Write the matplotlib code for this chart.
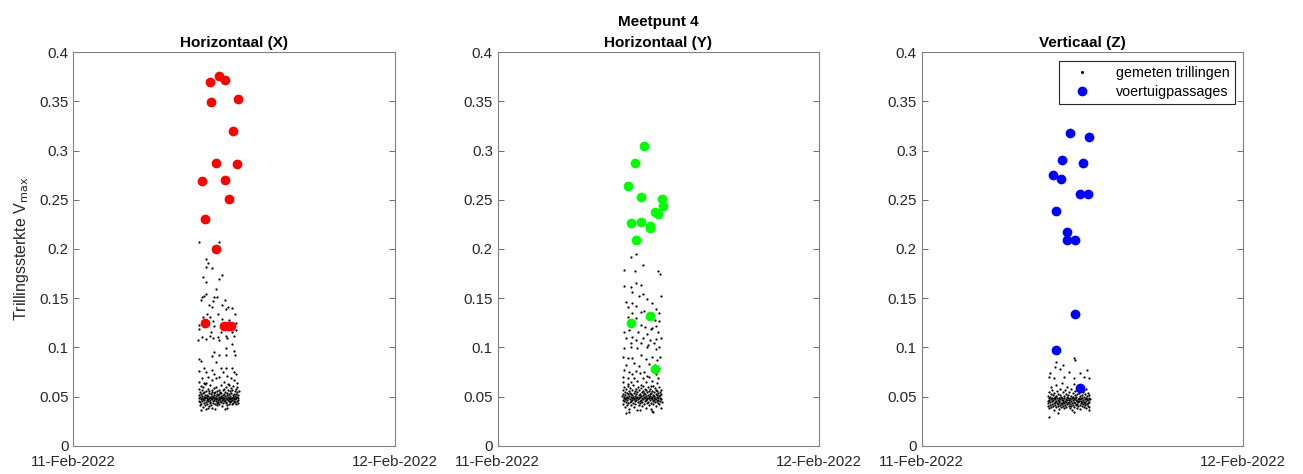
import matplotlib
matplotlib.use("Agg")
import matplotlib.pyplot as plt

plt.rcParams['font.family'] = ['Liberation Sans', 'DejaVu Sans']

# hour of day on 11-Feb-2022, value of Vmax
# --- Horizontaal (X) ---
x_peaks = [(10.22, 0.370), (10.87, 0.376), (11.32, 0.372), (10.27, 0.349), (12.29, 0.353),
           (11.89, 0.320), (10.65, 0.287), (12.24, 0.286), (9.64, 0.269), (11.29, 0.270),
           (11.64, 0.251), (9.85, 0.231), (10.65, 0.200), (9.85, 0.125), (11.24, 0.122),
           (11.54, 0.122), (11.79, 0.122)]

x_black = [
    # sparse upper part
    (9.42, 0.207), (10.87, 0.207), (9.94, 0.190), (10.02, 0.186), (9.92, 0.182), (10.32, 0.181),
    (9.67, 0.172), (11.12, 0.174), (10.87, 0.169), (9.92, 0.166), (10.67, 0.159), (9.90, 0.154),
    (9.77, 0.152), (9.62, 0.151), (9.53, 0.148), (10.52, 0.151), (10.74, 0.151), (10.44, 0.147),
    (11.32, 0.148), (10.12, 0.143), (11.12, 0.143), (11.57, 0.141), (11.37, 0.139), (11.87, 0.140),
    (10.37, 0.141), (9.97, 0.134), (10.82, 0.134), (12.07, 0.134), (9.70, 0.131), (10.22, 0.131),
    (10.42, 0.127), (11.12, 0.129), (11.66, 0.128), (9.42, 0.123), (10.52, 0.122), (12.16, 0.125),
    (9.38, 0.119), (10.27, 0.116), (11.02, 0.116), (11.81, 0.116), (12.11, 0.118),
    (9.62, 0.111), (9.87, 0.1085), (10.24, 0.1115), (10.42, 0.109), (10.82, 0.111), (10.87, 0.1075),
    (11.37, 0.1115), (11.49, 0.109), (11.99, 0.1115), (9.28, 0.1075), (11.85, 0.103), (11.39, 0.099),
    (12.02, 0.096), (10.50, 0.095), (9.38, 0.088), (9.50, 0.086), (10.37, 0.0915), (10.87, 0.092),
    (11.37, 0.092), (12.07, 0.092), (10.67, 0.085),
    # band 0.06 - 0.08
    (9.38, 0.076), (9.75, 0.0787), (9.92, 0.0746), (10.37, 0.077), (10.52, 0.0732), (10.99, 0.0787),
    (11.17, 0.0752), (11.37, 0.0793), (11.87, 0.0787), (11.99, 0.0752), (12.11, 0.0726), (9.62, 0.0691),
    (10.07, 0.0702), (10.32, 0.0668), (10.62, 0.0685), (10.87, 0.0702), (11.49, 0.0712), (11.74, 0.0685),
    (11.96, 0.0668), (9.38, 0.0651), (9.87, 0.0634), (11.24, 0.0651), (11.62, 0.0617),
    # dense core
    (9.36, 0.052), (9.38, 0.045), (9.40, 0.058), (9.41, 0.048), (9.43, 0.041), (9.45, 0.055),
    (9.47, 0.050), (9.49, 0.044), (9.50, 0.061), (9.52, 0.047), (9.54, 0.053), (9.56, 0.042),
    (9.58, 0.049), (9.60, 0.057), (9.61, 0.045), (9.63, 0.051), (9.65, 0.039), (9.67, 0.054),
    (9.69, 0.047), (9.71, 0.060), (9.72, 0.043), (9.74, 0.050), (9.76, 0.046), (9.78, 0.055),
    (9.80, 0.041), (9.82, 0.052), (9.84, 0.048), (9.85, 0.063), (9.87, 0.044), (9.89, 0.050),
    (9.91, 0.037), (9.93, 0.056), (9.95, 0.046), (9.97, 0.052), (9.98, 0.042), (10.00, 0.049),
    (10.02, 0.058), (10.04, 0.045), (10.06, 0.051), (10.08, 0.047), (10.10, 0.054), (10.11, 0.040),
    (10.13, 0.049), (10.15, 0.056), (10.17, 0.044), (10.19, 0.050), (10.21, 0.046), (10.23, 0.062),
    (10.24, 0.043), (10.26, 0.053), (10.28, 0.048), (10.30, 0.041), (10.32, 0.055), (10.34, 0.047),
    (10.36, 0.051), (10.38, 0.038), (10.39, 0.057), (10.41, 0.045), (10.43, 0.050), (10.45, 0.043),
    (10.47, 0.054), (10.49, 0.048), (10.50, 0.059), (10.52, 0.046), (10.54, 0.052), (10.56, 0.042),
    (10.58, 0.049), (10.60, 0.055), (10.62, 0.045), (10.63, 0.051), (10.65, 0.047), (10.67, 0.060),
    (10.69, 0.043), (10.71, 0.053), (10.73, 0.049), (10.75, 0.041), (10.76, 0.056), (10.78, 0.046),
    (10.80, 0.052), (10.82, 0.044), (10.84, 0.050), (10.86, 0.057), (10.88, 0.047), (10.89, 0.053),
    (10.91, 0.042), (10.93, 0.049), (10.95, 0.055), (10.97, 0.045), (10.99, 0.051), (11.01, 0.062),
    (11.02, 0.044), (11.04, 0.048), (11.06, 0.054), (11.08, 0.046), (11.10, 0.050), (11.12, 0.040),
    (11.14, 0.057), (11.15, 0.047), (11.17, 0.052), (11.19, 0.043), (11.21, 0.049), (11.23, 0.058),
    (11.25, 0.045), (11.27, 0.053), (11.28, 0.048), (11.30, 0.037), (11.32, 0.055), (11.34, 0.046),
    (11.36, 0.051), (11.38, 0.043), (11.40, 0.060), (11.41, 0.049), (11.43, 0.044), (11.45, 0.054),
    (11.47, 0.047), (11.49, 0.052), (11.51, 0.041), (11.53, 0.057), (11.54, 0.046), (11.56, 0.050),
    (11.58, 0.063), (11.60, 0.045), (11.62, 0.053), (11.64, 0.048), (11.66, 0.042), (11.67, 0.056),
    (11.69, 0.047), (11.71, 0.051), (11.73, 0.044), (11.75, 0.059), (11.77, 0.049), (11.79, 0.045),
    (11.80, 0.054), (11.82, 0.048), (11.84, 0.042), (11.86, 0.057), (11.88, 0.046), (11.90, 0.052),
    (11.92, 0.050), (11.93, 0.043), (11.95, 0.061), (11.97, 0.047), (11.99, 0.053), (12.01, 0.045),
    (12.03, 0.049), (12.05, 0.056), (12.06, 0.044), (12.08, 0.051), (12.10, 0.047), (12.12, 0.058),
    (12.14, 0.042), (12.16, 0.053), (12.18, 0.048), (12.19, 0.055), (12.21, 0.045), (12.23, 0.050),
    (12.25, 0.060), (12.27, 0.046), (12.29, 0.052), (12.31, 0.043), (12.32, 0.049), (12.34, 0.056),
    (9.55, 0.036), (10.05, 0.038), (10.60, 0.037), (11.45, 0.038), (9.75, 0.064), (12.20, 0.064),
]

# --- Horizontaal (Y) ---
y_peaks = [(10.92, 0.305), (10.27, 0.287), (9.72, 0.264), (10.69, 0.253), (12.29, 0.251),
           (12.34, 0.244), (11.72, 0.238), (11.96, 0.236), (9.94, 0.226), (10.72, 0.227),
           (11.36, 0.223), (11.39, 0.221), (10.35, 0.209), (11.36, 0.132), (9.94, 0.125),
           (11.74, 0.078)]

y_black = [
    # sparse upper part
    (9.94, 0.192), (10.36, 0.195), (10.85, 0.184), (9.44, 0.179), (10.26, 0.178), (12.00, 0.178),
    (12.10, 0.175), (9.41, 0.162), (10.36, 0.165), (10.68, 0.163), (9.94, 0.161), (10.06, 0.156),
    (10.55, 0.152), (10.81, 0.154), (12.17, 0.1525), (9.56, 0.1464), (10.01, 0.1454), (11.18, 0.149),
    (11.55, 0.1448), (9.76, 0.1407), (10.31, 0.142), (10.68, 0.136), (10.93, 0.137), (10.01, 0.135),
    (11.80, 0.1387), (12.04, 0.1346), (11.43, 0.133), (9.76, 0.131), (10.31, 0.1295), (11.75, 0.128),
    (12.04, 0.127), (10.68, 0.1227), (10.98, 0.1204), (11.55, 0.1194), (11.85, 0.1217), (9.44, 0.116),
    (9.81, 0.1176), (10.51, 0.116), (11.18, 0.114), (11.43, 0.1184), (12.00, 0.116), (9.56, 0.109),
    (10.01, 0.1108), (10.36, 0.1075), (10.85, 0.110), (11.35, 0.1075), (11.80, 0.108), (12.17, 0.110),
    (9.94, 0.1047), (10.68, 0.104), (11.22, 0.1024), (11.65, 0.104),
    (9.44, 0.0996), (9.94, 0.1007), (10.43, 0.099), (11.18, 0.1007), (11.80, 0.0983), (12.04, 0.1007),
    (9.32, 0.0905), (9.69, 0.0889), (10.06, 0.0895), (10.68, 0.0922), (11.05, 0.0882), (11.55, 0.0905),
    (11.92, 0.0871), (12.10, 0.0905), (9.56, 0.0821), (10.18, 0.0838), (10.55, 0.0813), (11.30, 0.0828),
    (11.75, 0.0821), (12.04, 0.0787),
    # band 0.06 - 0.08
    (9.44, 0.077), (9.81, 0.0752), (10.06, 0.0726), (10.36, 0.076), (10.61, 0.0736), (10.93, 0.0746),
    (11.18, 0.0712), (9.36, 0.0702), (9.69, 0.0685), (10.18, 0.0691), (10.81, 0.0685), (11.30, 0.0702),
    (11.80, 0.0726), (12.00, 0.0685), (9.32, 0.0651), (9.94, 0.0645), (10.43, 0.0658), (11.05, 0.0645),
    (11.55, 0.0658), (11.92, 0.0634), (9.76, 0.0624), (10.68, 0.0617), (11.43, 0.061),
    # dense core
    (9.30, 0.051), (9.32, 0.046), (9.34, 0.057), (9.36, 0.042), (9.38, 0.053), (9.40, 0.048),
    (9.42, 0.060), (9.44, 0.045), (9.46, 0.050), (9.48, 0.039), (9.50, 0.055), (9.52, 0.047),
    (9.54, 0.052), (9.56, 0.044), (9.58, 0.058), (9.60, 0.049), (9.62, 0.054), (9.64, 0.041),
    (9.66, 0.050), (9.68, 0.046), (9.70, 0.061), (9.72, 0.053), (9.74, 0.043), (9.76, 0.048),
    (9.78, 0.056), (9.80, 0.051), (9.82, 0.037), (9.84, 0.047), (9.86, 0.054), (9.88, 0.044),
    (9.90, 0.059), (9.92, 0.050), (9.94, 0.045), (9.96, 0.053), (9.98, 0.041), (10.00, 0.048),
    (10.02, 0.057), (10.04, 0.046), (10.06, 0.052), (10.08, 0.043), (10.10, 0.050), (10.12, 0.062),
    (10.14, 0.047), (10.16, 0.054), (10.18, 0.039), (10.20, 0.049), (10.22, 0.045), (10.24, 0.056),
    (10.26, 0.051), (10.28, 0.042), (10.30, 0.048), (10.32, 0.058), (10.34, 0.053), (10.36, 0.046),
    (10.38, 0.036), (10.40, 0.050), (10.42, 0.055), (10.44, 0.044), (10.46, 0.049), (10.48, 0.060),
    (10.50, 0.047), (10.52, 0.052), (10.54, 0.041), (10.56, 0.057), (10.58, 0.048), (10.60, 0.045),
    (10.62, 0.053), (10.64, 0.050), (10.66, 0.043), (10.68, 0.059), (10.70, 0.046), (10.72, 0.051),
    (10.74, 0.055), (10.76, 0.040), (10.78, 0.049), (10.80, 0.044), (10.82, 0.056), (10.84, 0.052),
    (10.86, 0.047), (10.88, 0.061), (10.90, 0.042), (10.92, 0.050), (10.94, 0.054), (10.96, 0.045),
    (10.98, 0.058), (11.00, 0.048), (11.02, 0.053), (11.04, 0.038), (11.06, 0.051), (11.08, 0.046),
    (11.10, 0.057), (11.12, 0.043), (11.14, 0.049), (11.16, 0.055), (11.18, 0.047), (11.20, 0.052),
    (11.22, 0.060), (11.24, 0.044), (11.26, 0.050), (11.28, 0.056), (11.30, 0.041), (11.32, 0.048),
    (11.34, 0.053), (11.36, 0.046), (11.38, 0.058), (11.40, 0.051), (11.42, 0.043), (11.44, 0.049),
    (11.46, 0.054), (11.48, 0.037), (11.50, 0.047), (11.52, 0.056), (11.54, 0.050), (11.56, 0.045),
    (11.58, 0.061), (11.60, 0.052), (11.62, 0.042), (11.64, 0.048), (11.66, 0.055), (11.68, 0.046),
    (11.70, 0.051), (11.72, 0.059), (11.74, 0.044), (11.76, 0.049), (11.78, 0.053), (11.80, 0.040),
    (11.82, 0.057), (11.84, 0.047), (11.86, 0.052), (11.88, 0.045), (11.90, 0.050), (11.92, 0.056),
    (11.94, 0.043), (11.96, 0.048), (11.98, 0.054), (12.00, 0.046), (12.02, 0.060), (12.04, 0.051),
    (12.06, 0.042), (12.08, 0.049), (12.10, 0.055), (12.12, 0.045), (12.14, 0.052), (12.16, 0.038),
    (12.18, 0.057), (12.20, 0.047), (12.22, 0.053), (12.24, 0.044),
    (9.56, 0.033), (10.61, 0.036), (11.55, 0.035), (11.60, 0.0346), (9.80, 0.034),
]

# --- Verticaal (Z) ---
z_peaks = [(11.04, 0.318), (12.46, 0.314), (10.45, 0.291), (12.07, 0.287), (9.79, 0.275),
           (10.39, 0.271), (11.81, 0.256), (12.41, 0.256), (10.02, 0.239), (10.82, 0.217),
           (10.82, 0.209), (11.47, 0.209), (11.47, 0.134), (10.02, 0.097), (11.84, 0.059)]

z_black = [
    # sparse upper part
    (11.34, 0.0889), (11.46, 0.0871), (10.04, 0.0854), (10.54, 0.082), (9.97, 0.0803), (10.34, 0.078),
    (9.59, 0.0736), (10.96, 0.0752), (11.84, 0.0736), (12.34, 0.077), (9.47, 0.0702), (9.84, 0.0685),
    (10.59, 0.0702), (11.34, 0.0691), (12.08, 0.0702), (12.46, 0.0685),
    # dense core
    (9.40, 0.045), (9.42, 0.040), (9.44, 0.051), (9.46, 0.043), (9.48, 0.048), (9.50, 0.038),
    (9.52, 0.055), (9.54, 0.046), (9.56, 0.041), (9.58, 0.050), (9.60, 0.044), (9.62, 0.060),
    (9.64, 0.039), (9.66, 0.047), (9.68, 0.053), (9.70, 0.042), (9.72, 0.049), (9.74, 0.045),
    (9.76, 0.057), (9.78, 0.040), (9.80, 0.046), (9.82, 0.052), (9.84, 0.043), (9.86, 0.048),
    (9.88, 0.036), (9.90, 0.054), (9.92, 0.044), (9.94, 0.050), (9.96, 0.041), (9.98, 0.047),
    (10.00, 0.062), (10.02, 0.045), (10.04, 0.039), (10.06, 0.051), (10.08, 0.043), (10.10, 0.048),
    (10.12, 0.056), (10.14, 0.042), (10.16, 0.046), (10.18, 0.040), (10.20, 0.053), (10.22, 0.044),
    (10.24, 0.049), (10.26, 0.037), (10.28, 0.045), (10.30, 0.058), (10.32, 0.041), (10.34, 0.047),
    (10.36, 0.052), (10.38, 0.043), (10.40, 0.039), (10.42, 0.050), (10.44, 0.046), (10.46, 0.064),
    (10.48, 0.042), (10.50, 0.048), (10.52, 0.044), (10.54, 0.055), (10.56, 0.040), (10.58, 0.046),
    (10.60, 0.051), (10.62, 0.043), (10.64, 0.038), (10.66, 0.049), (10.68, 0.045), (10.70, 0.057),
    (10.72, 0.041), (10.74, 0.047), (10.76, 0.053), (10.78, 0.044), (10.80, 0.039), (10.82, 0.050),
    (10.84, 0.046), (10.86, 0.042), (10.88, 0.060), (10.90, 0.048), (10.92, 0.043), (10.94, 0.052),
    (10.96, 0.040), (10.98, 0.046), (11.00, 0.055), (11.02, 0.044), (11.04, 0.038), (11.06, 0.049),
    (11.08, 0.042), (11.10, 0.047), (11.12, 0.058), (11.14, 0.045), (11.16, 0.040), (11.18, 0.051),
    (11.20, 0.043), (11.22, 0.048), (11.24, 0.036), (11.26, 0.054), (11.28, 0.046), (11.30, 0.041),
    (11.32, 0.050), (11.34, 0.044), (11.36, 0.063), (11.38, 0.047), (11.40, 0.039), (11.42, 0.052),
    (11.44, 0.043), (11.46, 0.048), (11.48, 0.056), (11.50, 0.041), (11.52, 0.046), (11.54, 0.050),
    (11.56, 0.038), (11.58, 0.045), (11.60, 0.053), (11.62, 0.042), (11.64, 0.047), (11.66, 0.059),
    (11.68, 0.044), (11.70, 0.040), (11.72, 0.049), (11.74, 0.045), (11.76, 0.054), (11.78, 0.041),
    (11.80, 0.047), (11.82, 0.037), (11.84, 0.051), (11.86, 0.043), (11.88, 0.048), (11.90, 0.061),
    (11.92, 0.045), (11.94, 0.040), (11.96, 0.052), (11.98, 0.044), (12.00, 0.049), (12.02, 0.055),
    (12.04, 0.042), (12.06, 0.046), (12.08, 0.039), (12.10, 0.050), (12.12, 0.044), (12.14, 0.057),
    (12.16, 0.041), (12.18, 0.047), (12.20, 0.053), (12.22, 0.043), (12.24, 0.038), (12.26, 0.049),
    (12.28, 0.045), (12.30, 0.058), (12.32, 0.042), (12.34, 0.047), (12.36, 0.051), (12.38, 0.040),
    (12.40, 0.046), (12.42, 0.054), (12.44, 0.043), (12.46, 0.048), (12.48, 0.039), (12.50, 0.052),
    (12.52, 0.044), (12.54, 0.047),
    (9.47, 0.0295), (11.34, 0.0346), (12.50, 0.036), (10.20, 0.033),
]

titles = ['Horizontaal (X)', 'Meetpunt 4\nHorizontaal (Y)', 'Verticaal (Z)']
colors = ['#ff0000', '#00ff00', '#0000ff']
blacks = [x_black, y_black, z_black]
peaks = [x_peaks, y_peaks, z_peaks]
yticks = [0, 0.05, 0.1, 0.15, 0.2, 0.25, 0.3, 0.35, 0.4]
ytick_labels = ['0', '0.05', '0.1', '0.15', '0.2', '0.25', '0.3', '0.35', '0.4']
xtick_labels = ['11-Feb-2022', '12-Feb-2022']

W, H = 1303, 474
fig = plt.figure(figsize=(W / 100, H / 100), dpi=100)
lefts = [73.3, 497.7, 921.7]
txt = '#262626'

for i in range(3):
    ax = fig.add_axes([lefts[i] / W, (H - 445.7) / H, 321.5 / W, 393.4 / H])
    bt, bv = zip(*blacks[i])
    pt, pv = zip(*peaks[i])
    h1, = ax.plot(bt, bv, 'o', color='k', markersize=1.6, markeredgewidth=0, linestyle='none')
    h2, = ax.plot(pt, pv, 'o', color=colors[i], markersize=6, linestyle='none')
    ax.set_xlim(0, 24)
    ax.set_ylim(0, 0.4)
    ax.set_yticks(yticks)
    ax.set_yticklabels(ytick_labels)
    ax.set_xticks([0, 24])
    ax.set_xticklabels(xtick_labels)
    ax.tick_params(direction='in', length=4, width=0.6, colors=txt, labelsize=10.8,
                   top=True, right=True, color='#555555')
    ax.tick_params(axis='x', pad=7)
    for s in ax.spines.values():
        s.set_color('#808080')
        s.set_linewidth(0.8)
    ax.set_title(titles[i], fontsize=11, fontweight='bold', color='k', pad=4, linespacing=1.65)
    if i == 0:
        ax.set_ylabel('Trillingssterkte V$_{\\mathrm{max}}$', fontsize=11.5, color=txt, labelpad=6)
    if i == 2:
        leg = ax.legend([h1, h2], ['gemeten trillingen', 'voertuigpassages'], loc='upper right',
                        fontsize=10.3, fancybox=False, edgecolor='#262626', framealpha=1,
                        borderaxespad=0.6, handletextpad=1.2, handlelength=2.4,
                        borderpad=0.35, labelspacing=0.35)
        leg.get_frame().set_linewidth(0.8)
        leg.legend_handles[0].set_markersize(2.2)

fig.savefig('out.png', dpi=100)
